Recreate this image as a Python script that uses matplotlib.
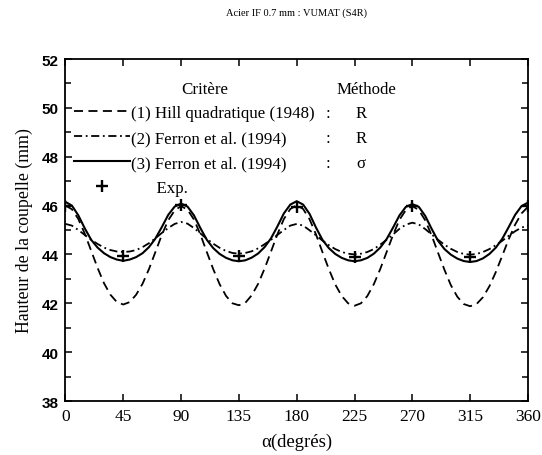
import numpy as np
import matplotlib
matplotlib.use("Agg")
import matplotlib.pyplot as plt
from matplotlib.ticker import MultipleLocator

# angles (degres), pas de 5
alpha = np.arange(0, 361, 5)

# (1) Hill quadratique (1948) - methode R
hill = [46.0, 45.85, 45.45, 44.85, 44.15, 43.45, 42.82, 42.35, 42.05, 41.95,
        42.05, 42.35, 42.8, 43.4, 44.1, 44.8, 45.4, 45.8, 45.98,
        45.83, 45.43, 44.82, 44.1, 43.4, 42.78, 42.3, 42.0, 41.92,
        42.02, 42.33, 42.8, 43.42, 44.12, 44.83, 45.45, 45.86, 46.02,
        45.86, 45.44, 44.82, 44.1, 43.4, 42.77, 42.3, 42.0, 41.9,
        42.0, 42.3, 42.78, 43.4, 44.1, 44.8, 45.42, 45.82, 45.98,
        45.82, 45.4, 44.78, 44.07, 43.37, 42.74, 42.27, 41.97, 41.88,
        41.97, 42.25, 42.7, 43.28, 43.95, 44.62, 45.22, 45.68, 45.95]

# (2) Ferron et al. (1994) - methode R
ferron_r = [45.25, 45.18, 45.0, 44.8, 44.6, 44.43, 44.28, 44.18, 44.12, 44.1,
            44.12, 44.18, 44.3, 44.46, 44.66, 44.88, 45.08, 45.25, 45.33,
            45.26, 45.08, 44.86, 44.64, 44.44, 44.27, 44.14, 44.06, 44.03,
            44.06, 44.13, 44.25, 44.42, 44.6, 44.8, 45.0, 45.18, 45.25,
            45.18, 44.99, 44.78, 44.57, 44.38, 44.22, 44.1, 44.03, 44.0,
            44.03, 44.1, 44.22, 44.4, 44.6, 44.82, 45.05, 45.22, 45.3,
            45.23, 45.04, 44.82, 44.6, 44.4, 44.23, 44.1, 44.02, 43.99,
            44.02, 44.1, 44.22, 44.38, 44.56, 44.76, 44.95, 45.1, 45.18]

# (3) Ferron et al. (1994) - methode sigma
ferron_s = [46.15, 46.0, 45.6, 45.07, 44.6, 44.28, 44.05, 43.89, 43.79, 43.74,
            43.79, 43.89, 44.05, 44.3, 44.65, 45.12, 45.62, 45.96, 46.08,
            45.96, 45.6, 45.08, 44.6, 44.26, 44.02, 43.86, 43.76, 43.72,
            43.76, 43.87, 44.04, 44.3, 44.66, 45.15, 45.68, 46.04, 46.18,
            46.04, 45.66, 45.1, 44.6, 44.26, 44.02, 43.86, 43.76, 43.72,
            43.76, 43.86, 44.03, 44.28, 44.63, 45.1, 45.6, 45.95, 46.06,
            45.95, 45.58, 45.05, 44.56, 44.22, 43.99, 43.83, 43.73, 43.69,
            43.73, 43.84, 44.02, 44.28, 44.64, 45.12, 45.62, 45.98, 46.12]

# mesures
alpha_exp = [0, 45, 90, 135, 180, 225, 270, 315, 360]
h_exp = [46.0, 43.95, 46.02, 43.95, 45.95, 43.9, 46.0, 43.9, 46.0]

labels = ["(1) Hill quadratique (1948)", "(2) Ferron et al. (1994)",
          "(3) Ferron et al. (1994)", "      Exp."]
methodes = ["R", "R", "\u03c3", ""]
xticks = [0, 45, 90, 135, 180, 225, 270, 315, 360]

serif = "Liberation Serif"
sans = "Liberation Sans"
plt.rcParams['font.family'] = serif
fs = 12.2

fig = plt.figure(figsize=(5.42, 4.56), dpi=100)
ax = fig.add_axes([0.1208, 0.1184, 0.8533, 0.75])

lw = 1.3
l1, = ax.plot(alpha, hill, color='k', lw=lw, ls=(0, (5, 3)))
l2, = ax.plot(alpha, ferron_r, color='k', lw=lw, ls=(0, (4.5, 2, 1, 2)))
l3, = ax.plot(alpha, ferron_s, color='k', lw=lw + 0.2, ls='-')
l4, = ax.plot(alpha_exp, h_exp, ls='none', marker='+', ms=9, mew=1.7, color='k')

ax.set_xlim(0, 360)
ax.set_ylim(38, 52)
ax.set_xticks(xticks)
ax.yaxis.set_major_locator(MultipleLocator(2))
ax.yaxis.set_minor_locator(MultipleLocator(1))
ax.tick_params(which='both', direction='in', top=True, right=True)
ax.tick_params(which='major', length=5, width=1.1)
ax.tick_params(which='minor', length=4, width=1.1)
ax.tick_params(axis='x', pad=5, labelsize=12.5)
ax.tick_params(axis='y', pad=5, labelsize=11)
for lab in ax.get_yticklabels():
    lab.set_family(sans)
    lab.set_weight('bold')
for sp in ax.spines.values():
    sp.set_linewidth(1.3)

ax.set_xlabel("\u03b1(degr\u00e9s)", fontsize=13.5, labelpad=6)
ax.set_ylabel("Hauteur de la coupelle (mm)", fontsize=12.8, labelpad=6)
ax.set_title("Acier IF 0.7 mm : VUMAT (S4R)", fontsize=7.5, pad=32)

leg = ax.legend([l1, l2, l3, l4], labels, loc='upper left',
                bbox_to_anchor=(0.018, 0.865), frameon=False, fontsize=fs,
                handlelength=3.3, handletextpad=0.06, borderpad=0,
                borderaxespad=0, labelspacing=0.53, numpoints=1)

# en-tetes et colonne methode, alignees sur les lignes de la legende
ax.text(0.302, 0.912, "Crit\u00e8re", transform=ax.transAxes, ha='center',
        va='center', fontsize=fs)
ax.text(0.65, 0.912, "M\u00e9thode", transform=ax.transAxes, ha='center',
        va='center', fontsize=fs)
fig.canvas.draw()
inv = ax.transAxes.inverted()
for t, m in zip(leg.get_texts(), methodes):
    bb = t.get_window_extent()
    yc = inv.transform((0, (bb.y0 + bb.y1) / 2))[1]
    if m:
        ax.text(0.568, yc, ":", transform=ax.transAxes, ha='center',
                va='center', fontsize=fs)
        ax.text(0.639, yc, m, transform=ax.transAxes, ha='center',
                va='center', fontsize=fs)

fig.savefig("out.png", dpi=100)
